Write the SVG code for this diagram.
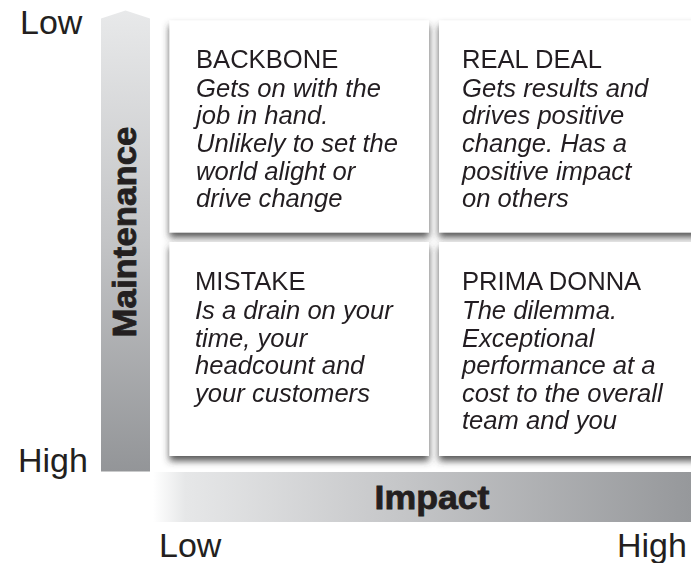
<svg xmlns="http://www.w3.org/2000/svg" width="691" height="563" viewBox="0 0 691 563">
  <style>
    .axis { font-family: "Liberation Sans", Arial, sans-serif; font-size: 34px; fill: #231f20; }
    .title { font-family: "Liberation Sans", Arial, sans-serif; font-size: 34px; font-weight: bold; fill: #231f20; stroke: #231f20; stroke-width: 0.8px; }
    .head { font-family: "Liberation Sans", Arial, sans-serif; font-size: 25.6px; fill: #231f20; }
    .body { font-family: "Liberation Sans", Arial, sans-serif; font-size: 25.6px; font-style: italic; fill: #231f20; }
    .card { fill: #ffffff; }
  </style>
  <defs>
    <linearGradient id="vGrad" x1="0" y1="0" x2="0" y2="1">
      <stop offset="0" stop-color="#e8e9ea"/>
      <stop offset="0.5" stop-color="#c3c4c6"/>
      <stop offset="1" stop-color="#939598"/>
    </linearGradient>
    <linearGradient id="hGrad" x1="0" y1="0" x2="1" y2="0">
      <stop offset="0" stop-color="#ffffff"/>
      <stop offset="0.06" stop-color="#e6e7e8"/>
      <stop offset="0.45" stop-color="#c6c7c9"/>
      <stop offset="1" stop-color="#96989b"/>
    </linearGradient>
    <filter id="lift" x="-10%" y="-15%" width="120%" height="135%">
      <feGaussianBlur in="SourceAlpha" stdDeviation="3.5" result="blur"/>
      <feOffset in="blur" dx="0" dy="5" result="off"/>
      <feFlood flood-color="#3a3a3a" flood-opacity="0.85"/>
      <feComposite in2="off" operator="in" result="shadow"/>
      <feMerge>
        <feMergeNode in="shadow"/>
        <feMergeNode in="SourceGraphic"/>
      </feMerge>
    </filter>
  </defs>

  <rect width="691" height="563" fill="#ffffff"/>

  <!-- axis bars and their labels -->
  <g id="axes">
    <polygon points="101,18.5 125.5,10.5 150,18.5 150,471.5 101,471.5" fill="url(#vGrad)"/>
    <rect x="153" y="472" width="538" height="50" fill="url(#hGrad)"/>
    <text class="title" transform="translate(136,232) rotate(-90)" text-anchor="middle" textLength="211" lengthAdjust="spacingAndGlyphs">Maintenance</text>
    <text class="title" x="432" y="509" text-anchor="middle" textLength="115" lengthAdjust="spacingAndGlyphs">Impact</text>
    <text class="axis" x="20" y="34">Low</text>
    <text class="axis" x="18" y="471.5">High</text>
    <text class="axis" x="159" y="556.5">Low</text>
    <text class="axis" x="617" y="556.5">High</text>
  </g>

  <!-- quadrant cards -->
  <g id="backbone" filter="url(#lift)">
    <rect class="card" x="169.5" y="20.5" width="259.5" height="212"/>
    <text class="head" x="196" y="68">BACKBONE</text>
    <text class="body" x="196" y="96.5">Gets on with the</text>
    <text class="body" x="196" y="124">job in hand.</text>
    <text class="body" x="196" y="152">Unlikely to set the</text>
    <text class="body" x="196" y="179.5">world alight or</text>
    <text class="body" x="196" y="207">drive change</text>
  </g>

  <g id="real-deal" filter="url(#lift)">
    <rect class="card" x="439" y="20.5" width="262" height="212"/>
    <text class="head" x="462" y="68">REAL DEAL</text>
    <text class="body" x="462" y="96.5">Gets results and</text>
    <text class="body" x="462" y="124">drives positive</text>
    <text class="body" x="462" y="152">change. Has a</text>
    <text class="body" x="462" y="179.5">positive impact</text>
    <text class="body" x="462" y="207">on others</text>
  </g>

  <g id="mistake" filter="url(#lift)">
    <rect class="card" x="169.5" y="242" width="259.5" height="214"/>
    <text class="head" x="195" y="290">MISTAKE</text>
    <text class="body" x="195" y="319">Is a drain on your</text>
    <text class="body" x="195" y="346.5">time, your</text>
    <text class="body" x="195" y="374">headcount and</text>
    <text class="body" x="195" y="401.5">your customers</text>
  </g>

  <g id="prima-donna" filter="url(#lift)">
    <rect class="card" x="439" y="242" width="262" height="214"/>
    <text class="head" x="462" y="290">PRIMA DONNA</text>
    <text class="body" x="462" y="319">The dilemma.</text>
    <text class="body" x="462" y="346.5">Exceptional</text>
    <text class="body" x="462" y="374">performance at a</text>
    <text class="body" x="462" y="401.5">cost to the overall</text>
    <text class="body" x="462" y="429">team and you</text>
  </g>
</svg>
